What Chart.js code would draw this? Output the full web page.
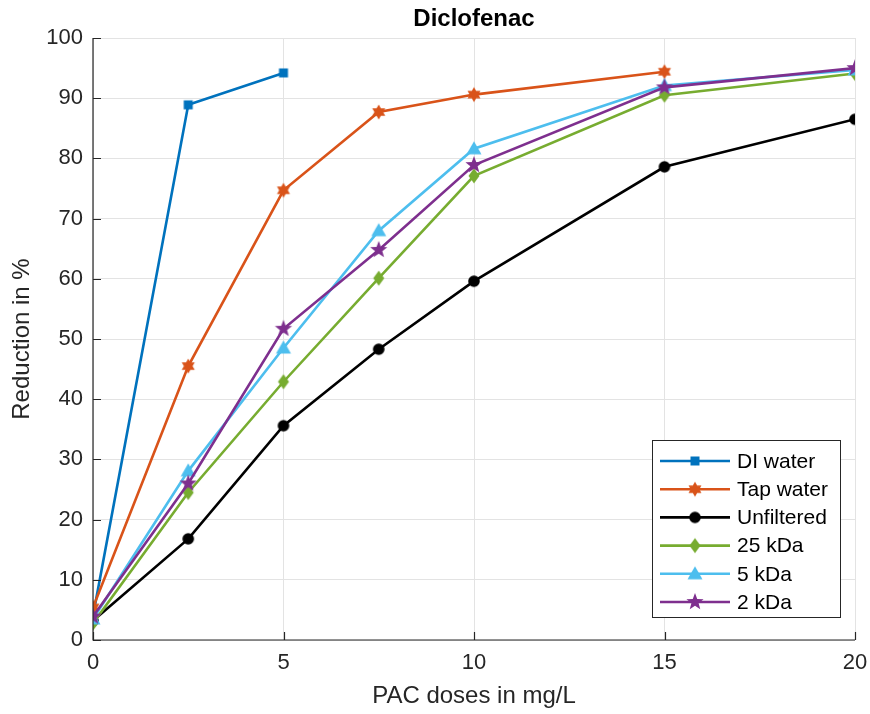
<!DOCTYPE html>
<html>
<head>
<meta charset="utf-8">
<script src="https://cdn.jsdelivr.net/npm/chart.js@4/dist/chart.umd.min.js"></script>
<style>
  body { margin: 0; background: #fff; }
  #chart { display: block; }
</style>
</head>
<body>
<canvas id="chart" width="870" height="714"></canvas>
<script>
// values
const doses = [0, 2.5, 5, 7.5, 10, 15, 20];
const xTicks = [0, 5, 10, 15, 20];
const diWater = [4.0, 88.9, 94.2];
const tapWater = [5.4, 45.5, 74.7, 87.7, 90.6, 94.4];
const unfiltered = [3.2, 16.8, 35.6, 48.3, 59.6, 78.6, 86.5];
const kda25 = [2.8, 24.5, 42.9, 60.1, 77.1, 90.5, 94.1];
const kda5 = [3.5, 28.1, 48.5, 68.0, 81.6, 92.1, 94.7];
const kda2 = [3.9, 26.0, 51.7, 64.8, 78.9, 91.8, 95.0];
const seriesNames = ['DI water', 'Tap water', 'Unfiltered', '25 kDa', '5 kDa', '2 kDa'];

const FONT = '"Liberation Sans", Arial, Helvetica, sans-serif';
const TEXT = '#262626';

// markers drawn onto small canvases so chart and legend use the same ones
function marker(kind, color, size) {
    const c = document.createElement('canvas');
    c.width = size; c.height = size;
    const g = c.getContext('2d');
    const m = size / 2;
    g.fillStyle = color;
    g.beginPath();
    if (kind === 'square') {
        g.rect(m - 4.5, m - 4.5, 9, 9);
    } else if (kind === 'circle') {
        g.arc(m, m, 5.8, 0, Math.PI * 2);
    } else if (kind === 'diamond') {
        g.moveTo(m, m - 7.5); g.lineTo(m + 5.5, m); g.lineTo(m, m + 7.5); g.lineTo(m - 5.5, m);
    } else if (kind === 'triangle') {
        g.moveTo(m, m - 7.5); g.lineTo(m + 7.5, m + 5.5); g.lineTo(m - 7.5, m + 5.5);
    } else {
        // hexagram (6) or pentagram (5)
        const n = kind === 'hexagram' ? 6 : 5;
        const ro = kind === 'hexagram' ? 7.5 : 9;
        const ri = kind === 'hexagram' ? ro * 0.577 : ro * 0.42;
        for (let i = 0; i < n * 2; i++) {
            const r = i % 2 === 0 ? ro : ri;
            const a = -Math.PI / 2 + i * Math.PI / n;
            const px = m + r * Math.cos(a), py = m + r * Math.sin(a);
            if (i === 0) g.moveTo(px, py); else g.lineTo(px, py);
        }
    }
    g.closePath();
    g.fill();
    return c;
}

const colors = ['#0072BD', '#D95319', '#000000', '#77AC30', '#4DBEEE', '#7E2F8E'];
const kinds = ['square', 'hexagram', 'circle', 'diamond', 'triangle', 'pentagram'];
const values = [diWater, tapWater, unfiltered, kda25, kda5, kda2];
const markers = kinds.map((k, i) => marker(k, colors[i], 20));

const datasets = values.map((vals, i) => ({
    label: seriesNames[i],
    data: vals.map((v, j) => ({ x: doses[j], y: v })),
    borderColor: colors[i],
    backgroundColor: colors[i],
    borderWidth: 2.6,
    pointStyle: markers[i],
    pointRadius: 7,
    tension: 0,
    order: values.length - i
}));

const LEFT = 93, TOP = 38, RIGHT_PAD = 15, BOTTOM_H = 74;

const matlabAxes = {
    id: 'matlabAxes',
    afterDraw(chart) {
        const { ctx, chartArea: a, scales } = chart;
        ctx.save();
        // title
        ctx.fillStyle = '#000';
        ctx.font = 'bold 24px ' + FONT;
        ctx.textAlign = 'center';
        ctx.textBaseline = 'middle';
        ctx.fillText('Diclofenac', (a.left + a.right) / 2, 19);

        // left and bottom axis lines with inward ticks
        ctx.strokeStyle = TEXT;
        ctx.lineWidth = 1.2;
        ctx.beginPath();
        ctx.moveTo(a.left, a.top); ctx.lineTo(a.left, a.bottom); ctx.lineTo(a.right, a.bottom);
        scales.y.ticks.forEach(t => {
            const y = Math.round(scales.y.getPixelForValue(t.value)) + 0.5;
            ctx.moveTo(a.left, y); ctx.lineTo(a.left + 8, y);
        });
        scales.x.ticks.forEach(t => {
            const x = Math.round(scales.x.getPixelForValue(t.value)) + 0.5;
            ctx.moveTo(x, a.bottom); ctx.lineTo(x, a.bottom - 8);
        });
        ctx.stroke();

        // legend box in lower right
        const bx = 652, by = 440, bw = 188, bh = 177, row = 28.2;
        ctx.fillStyle = '#fff';
        ctx.fillRect(bx, by, bw, bh);
        ctx.strokeStyle = '#262626';
        ctx.lineWidth = 1;
        ctx.strokeRect(bx + 0.5, by + 0.5, bw, bh);
        ctx.font = '21px ' + FONT;
        ctx.textAlign = 'left';
        chart.data.datasets.forEach((ds, i) => {
            const y = by + 21 + i * row;
            ctx.strokeStyle = ds.borderColor;
            ctx.lineWidth = 2.6;
            ctx.beginPath();
            ctx.moveTo(bx + 8, y); ctx.lineTo(bx + 78, y);
            ctx.stroke();
            ctx.drawImage(ds.pointStyle, bx + 43 - 10, y - 10);
            ctx.fillStyle = '#000';
            ctx.fillText(ds.label, bx + 85, y + 1);
        });
        ctx.restore();
    }
};

new Chart(document.getElementById('chart'), {
    type: 'line',
    data: { datasets },
    options: {
        responsive: false,
        animation: false,
        layout: { padding: { top: TOP, right: RIGHT_PAD, left: 0, bottom: 0 } },
        plugins: {
            legend: { display: false },
            tooltip: { enabled: false }
        },
        scales: {
            x: {
                type: 'linear',
                min: 0,
                max: 20,
                afterBuildTicks: s => { s.ticks = xTicks.map(v => ({ value: v })); },
                afterFit: s => { s.height = BOTTOM_H; s.paddingLeft = 0; s.paddingRight = 0; },
                grid: { color: '#e3e3e3', lineWidth: 1, drawTicks: false },
                border: { display: false },
                ticks: { color: TEXT, padding: 10, font: { family: FONT, size: 22 } },
                title: {
                    display: true,
                    text: 'PAC doses in mg/L',
                    color: TEXT,
                    padding: { top: 0, bottom: 3 },
                    font: { family: FONT, size: 24 }
                }
            },
            y: {
                min: 0,
                max: 100,
                afterFit: s => { s.width = LEFT; },
                grid: { color: '#e3e3e3', lineWidth: 1, drawTicks: false },
                border: { display: false },
                ticks: { stepSize: 10, color: TEXT, padding: 10, font: { family: FONT, size: 22 } },
                title: {
                    display: true,
                    text: 'Reduction in %',
                    color: TEXT,
                    padding: { top: 8, bottom: 0 },
                    font: { family: FONT, size: 24 }
                }
            }
        }
    },
    plugins: [matlabAxes]
});
</script>
</body>
</html>
